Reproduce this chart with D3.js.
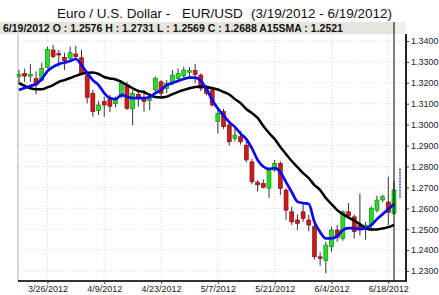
<!DOCTYPE html>
<html>
<head>
<meta charset="utf-8">
<script src="https://cdn.jsdelivr.net/npm/d3@7"></script>
<style>
html, body { margin: 0; padding: 0; background: #fff; }
svg { display: block; font-family: "Liberation Sans", Arial, sans-serif; }
</style>
</head>
<body>
<div id="chart"></div>
<script>
// trading days shown on the chart
const dates = ['3/19/2012','3/20/2012','3/21/2012','3/22/2012','3/23/2012',
	'3/26/2012','3/27/2012','3/28/2012','3/29/2012','3/30/2012',
	'4/2/2012','4/3/2012','4/4/2012','4/5/2012','4/6/2012',
	'4/9/2012','4/10/2012','4/11/2012','4/12/2012','4/13/2012',
	'4/16/2012','4/17/2012','4/18/2012','4/19/2012','4/20/2012',
	'4/23/2012','4/24/2012','4/25/2012','4/26/2012','4/27/2012',
	'4/30/2012','5/1/2012','5/2/2012','5/3/2012','5/4/2012',
	'5/7/2012','5/8/2012','5/9/2012','5/10/2012','5/11/2012',
	'5/14/2012','5/15/2012','5/16/2012','5/17/2012','5/18/2012',
	'5/21/2012','5/22/2012','5/23/2012','5/24/2012','5/25/2012',
	'5/28/2012','5/29/2012','5/30/2012','5/31/2012','6/1/2012',
	'6/4/2012','6/5/2012','6/6/2012','6/7/2012','6/8/2012',
	'6/11/2012','6/12/2012','6/13/2012','6/14/2012','6/15/2012',
	'6/18/2012','6/19/2012'];

const opens = [1.3230,1.3245,1.3232,1.3220,1.3213,1.3274,1.3357,1.3340,1.3322,1.3317,
	1.3338,1.3320,1.3237,1.3150,1.3067,1.3110,1.3120,1.3100,1.3134,1.3190,
	1.3075,1.3145,1.3120,1.3115,1.3166,1.3205,1.3174,1.3205,1.3221,1.3233,
	1.3250,1.3258,1.3237,1.3181,1.3166,1.3014,1.3062,1.2998,1.2934,1.2942,
	1.2902,1.2822,1.2725,1.2718,1.2696,1.2783,1.2815,1.2687,1.2583,1.2544,
	1.2583,1.2544,1.2512,1.2368,1.2350,1.2416,1.2496,1.2456,1.2583,1.2559,
	1.2520,1.2498,1.2520,1.2591,1.2640,1.2630,1.2576];
const highs = [1.3262,1.3268,1.3290,1.3255,1.3296,1.3373,1.3381,1.3357,1.3344,1.3373,
	1.3376,1.3357,1.3253,1.3166,1.3113,1.3134,1.3142,1.3134,1.3213,1.3205,
	1.3165,1.3165,1.3166,1.3150,1.3230,1.3213,1.3213,1.3261,1.3269,1.3277,
	1.3275,1.3290,1.3245,1.3190,1.3175,1.3070,1.3075,1.3010,1.2980,1.2970,
	1.2920,1.2835,1.2735,1.2738,1.2792,1.2831,1.2825,1.2695,1.2607,1.2570,
	1.2620,1.2568,1.2525,1.2390,1.2440,1.2512,1.2520,1.2590,1.2625,1.2570,
	1.2671,1.2535,1.2610,1.2660,1.2665,1.2751,1.2731];
const lows = [1.3195,1.3205,1.3205,1.3145,1.3205,1.3269,1.3317,1.3277,1.3261,1.3301,
	1.3312,1.3237,1.3102,1.3038,1.3046,1.3038,1.3060,1.3083,1.3125,1.3070,
	1.2998,1.3085,1.3062,1.3070,1.3158,1.3134,1.3150,1.3190,1.3205,1.3213,
	1.3225,1.3198,1.3160,1.3140,1.3085,1.2958,1.2980,1.2900,1.2920,1.2905,
	1.2820,1.2715,1.2680,1.2695,1.2650,1.2775,1.2663,1.2545,1.2520,1.2495,
	1.2535,1.2490,1.2355,1.2325,1.2289,1.2392,1.2440,1.2445,1.2555,1.2455,
	1.2470,1.2450,1.2490,1.2580,1.2630,1.2520,1.2569];
const closes = [1.3240,1.3232,1.3240,1.3190,1.3269,1.3360,1.3325,1.3333,1.3306,1.3344,
	1.3325,1.3245,1.3130,1.3062,1.3094,1.3094,1.3088,1.3118,1.3198,1.3078,
	1.3150,1.3125,1.3110,1.3125,1.3222,1.3150,1.3198,1.3237,1.3245,1.3261,
	1.3258,1.3240,1.3174,1.3150,1.3094,1.3054,1.2990,1.2918,1.2950,1.2918,
	1.2831,1.2727,1.2712,1.2700,1.2783,1.2815,1.2695,1.2591,1.2535,1.2528,
	1.2551,1.2520,1.2368,1.2360,1.2424,1.2496,1.2460,1.2583,1.2563,1.2488,
	1.2500,1.2520,1.2600,1.2639,1.2655,1.2580,1.2688];

// averages (blue = fast, black = A15SMA)
const fastAvg = [1.3166,1.3175,1.3185,1.3194,1.3218,1.3256,1.3276,1.3290,1.3297,1.3304,
	1.3314,1.3285,1.3247,1.3213,1.3189,1.3151,1.3127,1.3122,1.3142,1.3134,
	1.3127,1.3127,1.3127,1.3132,1.3151,1.3166,1.3189,1.3199,1.3209,1.3218,
	1.3225,1.3225,1.3209,1.3170,1.3118,1.3077,1.3044,1.3012,1.2989,1.2957,
	1.2931,1.2886,1.2831,1.2800,1.2788,1.2792,1.2773,1.2725,1.2678,1.2632,
	1.2625,1.2620,1.2534,1.2486,1.2456,1.2456,1.2467,1.2496,1.2505,1.2505,
	1.2500,1.2505,1.2520,1.2548,1.2572,1.2596,1.2620];
const slowAvg = [1.3198,1.3185,1.3174,1.3169,1.3169,1.3178,1.3189,1.3205,1.3213,1.3223,
	1.3233,1.3242,1.3248,1.3249,1.3242,1.3228,1.3221,1.3216,1.3205,1.3189,
	1.3174,1.3161,1.3155,1.3142,1.3132,1.3130,1.3134,1.3146,1.3157,1.3166,
	1.3174,1.3180,1.3182,1.3180,1.3175,1.3168,1.3156,1.3144,1.3122,1.3103,
	1.3075,1.3055,1.3032,1.2993,1.2960,1.2931,1.2893,1.2859,1.2826,1.2797,
	1.2768,1.2744,1.2711,1.2687,1.2649,1.2620,1.2591,1.2572,1.2555,1.2541,
	1.2524,1.2505,1.2498,1.2499,1.2503,1.2510,1.2521];

const xTicks = ['3/26/2012','4/9/2012','4/23/2012','5/7/2012','5/21/2012','6/4/2012','6/18/2012'];
const yTicks = [1.23,1.24,1.25,1.26,1.27,1.28,1.29,1.30,1.31,1.32,1.33,1.34];
const markerRange = [1.2645, 1.2790];

const width = 439, height = 295;
const plot = { left: 18, right: 406, top: 34, bottom: 281, band: 22 };

const svg = d3.select('#chart').append('svg')
	.attr('width', width)
	.attr('height', height);

const x = d3.scalePoint().domain(dates).range([19, 394]);
const y = d3.scaleLinear().domain([1.23, 1.34]).range([271, 41]);

// title
const title = svg.append('g').attr('font-size', 13.5).attr('fill', '#111');
title.append('text').attr('x', 57).attr('y', 18).text('Euro / U.S. Dollar -');
title.append('text').attr('x', 182).attr('y', 18).text('EUR/USD');
title.append('text').attr('x', 392).attr('y', 18).attr('text-anchor', 'end').text('(3/19/2012 - 6/19/2012)');

// grid
const grid = svg.append('g')
	.attr('stroke', '#d4d4d4')
	.attr('stroke-dasharray', '1,2');
grid.selectAll('.hgrid').data(yTicks).enter()
	.append('line')
	.attr('class', 'hgrid')
	.attr('x1', plot.left).attr('x2', plot.right)
	.attr('y1', d => y(d)).attr('y2', d => y(d));
grid.selectAll('.vgrid').data(xTicks).enter()
	.append('line')
	.attr('class', 'vgrid')
	.attr('x1', d => x(d)).attr('x2', d => x(d))
	.attr('y1', plot.top).attr('y2', plot.bottom);

// header band
svg.append('rect').attr('x', 0).attr('y', plot.band)
	.attr('width', 395).attr('height', plot.top - plot.band)
	.attr('fill', '#e7e4dd');
svg.append('rect').attr('x', 395).attr('y', plot.band)
	.attr('width', plot.right - 395).attr('height', plot.top - plot.band)
	.attr('fill', '#f1efea');

const last = dates.length - 1;
svg.append('text')
	.attr('x', 3).attr('y', 31.5)
	.attr('font-size', 10.5)
	.attr('font-weight', 'bold')
	.attr('fill', '#111')
	.text(dates[last] + ' O : ' + opens[last].toFixed(4) + ' H : ' + highs[last].toFixed(4) +
		' L : ' + lows[last].toFixed(4) + ' C : ' + closes[last].toFixed(4) +
		' A15SMA : ' + slowAvg[last].toFixed(4));

// left border
svg.append('line')
	.attr('x1', plot.left).attr('x2', plot.left)
	.attr('y1', plot.top).attr('y2', plot.bottom)
	.attr('stroke', '#b0b0b0');

// candles
const candles = dates.map((d, i) => ({ date: d, o: opens[i], h: highs[i], l: lows[i], c: closes[i] }));
const cg = svg.append('g');
cg.selectAll('.wick').data(candles).enter()
	.append('line')
	.attr('class', 'wick')
	.attr('x1', d => x(d.date)).attr('x2', d => x(d.date))
	.attr('y1', d => y(d.h)).attr('y2', d => y(d.l))
	.attr('stroke', '#333')
	.attr('stroke-width', 1);
cg.selectAll('.body').data(candles).enter()
	.append('rect')
	.attr('class', 'body')
	.attr('x', d => x(d.date) - 2)
	.attr('width', 4)
	.attr('y', d => y(Math.max(d.o, d.c)))
	.attr('height', d => Math.max(1.5, Math.abs(y(d.o) - y(d.c))))
	.attr('fill', d => d.c >= d.o ? '#22dd22' : '#cc1a1a')
	.attr('stroke', d => d.c >= d.o ? '#137a13' : '#7a0c0c')
	.attr('stroke-width', 0.6);

// moving averages
const lineFn = d3.line()
	.x((d, i) => x(dates[i]))
	.y(d => y(d))
	.curve(d3.curveMonotoneX);

svg.append('path')
	.attr('d', lineFn(slowAvg))
	.attr('fill', 'none')
	.attr('stroke', '#000')
	.attr('stroke-width', 2.5)
	.attr('stroke-linejoin', 'round');
svg.append('path')
	.attr('d', lineFn(fastAvg))
	.attr('fill', 'none')
	.attr('stroke', '#0a0af0')
	.attr('stroke-width', 2.7)
	.attr('stroke-linejoin', 'round');

// cursor line on the last day and price marker
svg.append('line')
	.attr('x1', x(dates[last])).attr('x2', x(dates[last]))
	.attr('y1', plot.band).attr('y2', plot.bottom)
	.attr('stroke', '#000');
svg.append('line')
	.attr('x1', x(dates[last]) + 6).attr('x2', x(dates[last]) + 6)
	.attr('y1', y(markerRange[1])).attr('y2', y(markerRange[0]))
	.attr('stroke', '#2040c0')
	.attr('stroke-width', 1.5)
	.attr('stroke-dasharray', '2,1');

// axes
const xAxis = svg.append('g')
	.attr('transform', 'translate(0,' + plot.bottom + ')')
	.call(d3.axisBottom(x).tickValues(xTicks).tickSize(3).tickPadding(2));
const yAxis = svg.append('g')
	.attr('transform', 'translate(' + plot.right + ',0)')
	.call(d3.axisRight(y).tickValues(yTicks).tickFormat(d3.format('.4f')).tickSize(3).tickPadding(2));

[xAxis, yAxis].forEach(function (a) {
	a.select('.domain').remove();
	a.selectAll('text')
		.attr('font-family', '"Liberation Sans", Arial, sans-serif')
		.attr('font-size', 9)
		.attr('fill', '#222');
	a.selectAll('.tick line').attr('stroke', '#444');
});

svg.append('line')
	.attr('x1', plot.left).attr('x2', plot.right + 1)
	.attr('y1', plot.bottom).attr('y2', plot.bottom)
	.attr('stroke', '#333')
	.attr('stroke-width', 2);
svg.append('line')
	.attr('x1', plot.right).attr('x2', plot.right)
	.attr('y1', plot.top).attr('y2', plot.bottom)
	.attr('stroke', '#222')
	.attr('stroke-width', 2);
</script>
</body>
</html>
